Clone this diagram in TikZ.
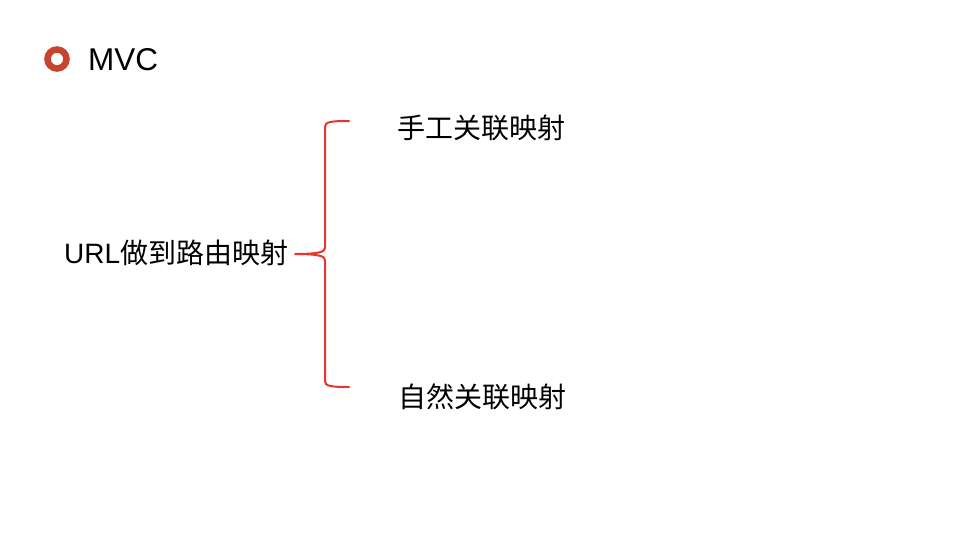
\documentclass[tikz,border=0pt]{standalone}
\usepackage{fontspec}
\setmainfont{Liberation Sans}
\newfontfamily\cjk{Noto Sans CJK SC}
\definecolor{bulletred}{HTML}{C5432F}
\definecolor{bracered}{HTML}{E8342B}
\begin{document}
\begin{tikzpicture}[x=1pt,y=-1pt,
  txt/.style={anchor=west,inner sep=0pt,font=\fontsize{28}{34}\selectfont},
  bracepath/.style={draw=bracered,line width=2pt,line join=round,line cap=round}]
\useasboundingbox[fill=white] (0,0) rectangle (960,540);
% bullet
\node[circle,draw=bulletred,line width=6.5pt,minimum size=19pt,inner sep=0pt] (bullet) at (57,59) {};
\node[anchor=west,inner sep=0pt,font=\fontsize{31.5}{38}\selectfont] (title) at (88,60) {MVC};
% texts
\node[txt] (root) at (64,253) {URL{\cjk 做到路由映射}};
\node[txt] (top) at (397,128) {\cjk 手工关联映射};
\node[txt] (bot) at (398,397) {\cjk 自然关联映射};
% brace
\coordinate (cusp) at (295,254);
\coordinate (tend) at (349,121);
\coordinate (bend) at (349,387);
\draw[bracepath] (tend) .. controls (330,121) and (325,122) .. (325,127) -- (325,248)
  .. controls (325,252) and (318,254) .. (cusp)
  .. controls (318,254) and (325,256) .. (325,260) -- (325,381)
  .. controls (325,386) and (330,387) .. (bend);
\end{tikzpicture}
\end{document}
